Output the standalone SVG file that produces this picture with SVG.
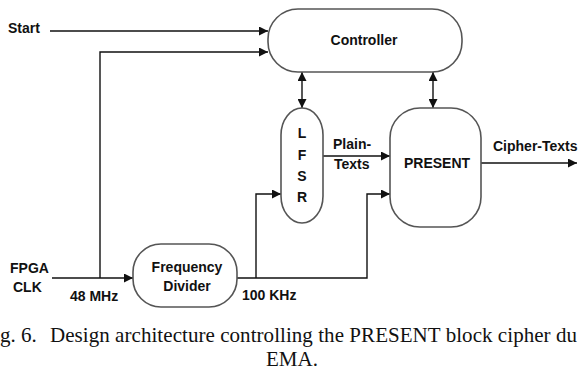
<svg xmlns="http://www.w3.org/2000/svg" width="579" height="370" viewBox="0 0 579 370">
<style>
.n{fill:#fff;stroke:#555;stroke-width:1.6}
.t{font-family:"Liberation Sans",Arial,sans-serif;font-weight:bold;font-size:14px;fill:#111}
.c{text-anchor:middle}
.w{fill:none;stroke:#111;stroke-width:1.4}
.cap{font-family:"Liberation Serif","Times New Roman",serif;font-size:21px;fill:#111}
</style>
<defs>
<marker id="a" viewBox="0 0 10 10" refX="10" refY="5" markerWidth="10" markerHeight="9" markerUnits="userSpaceOnUse" orient="auto-start-reverse">
<path d="M0,0 L10,5 L0,10 z" fill="#111"/>
</marker>
</defs>
<rect width="579" height="370" fill="#fff"/>
<g id="connectors">
<path class="w" d="M50,31 H268" marker-end="url(#a)"/>
<path class="w" d="M100,278 V52 H268" marker-end="url(#a)"/>
<path class="w" d="M52,278 H133" marker-end="url(#a)"/>
<path class="w" d="M237,278 H367 V194 H390" marker-end="url(#a)"/>
<path class="w" d="M256,278 V194 H281" marker-end="url(#a)"/>
<path class="w" d="M302,72 V108" marker-start="url(#a)" marker-end="url(#a)"/>
<path class="w" d="M433,72 V108" marker-start="url(#a)" marker-end="url(#a)"/>
<path class="w" d="M323,156 H390" marker-end="url(#a)"/>
<path class="w" d="M481,163 H577" marker-end="url(#a)"/>
</g>
<g id="start"><text class="t" x="8" y="33">Start</text></g>
<g id="fpga"><text class="t" x="10" y="273">FPGA</text><text class="t" x="13" y="292">CLK</text></g>
<g id="l48"><text class="t" x="70" y="301">48 MHz</text></g>
<g id="l100"><text class="t" x="242" y="300">100 KHz</text></g>
<g id="controller">
<rect class="n" x="268" y="9" width="194" height="63" rx="30" ry="30"/>
<text class="t c" x="364" y="45">Controller</text>
</g>
<g id="lfsr">
<rect class="n" x="281" y="108" width="42" height="115" rx="21" ry="27"/>
<text class="t c" x="302" y="138">L</text>
<text class="t c" x="302" y="160">F</text>
<text class="t c" x="302" y="181">S</text>
<text class="t c" x="302" y="202">R</text>
</g>
<g id="present">
<rect class="n" x="390" y="108" width="91" height="119" rx="30" ry="30"/>
<text class="t c" x="437" y="168">PRESENT</text>
</g>
<g id="divider">
<rect class="n" x="133" y="244" width="104" height="63" rx="28" ry="28"/>
<text class="t c" x="187" y="272">Frequency</text>
<text class="t c" x="187" y="291">Divider</text>
</g>
<g id="labels">
<text class="t" x="333" y="149">Plain-</text>
<text class="t" x="334" y="169">Texts</text>
<text class="t" x="493" y="151">Cipher-Texts</text>
</g>
<g id="caption">
<text class="cap" x="0" y="342">g. 6.</text>
<text class="cap" x="50" y="342" textLength="527" lengthAdjust="spacing">Design architecture controlling the PRESENT block cipher du</text>
<text class="cap c" x="292" y="366">EMA.</text>
</g>
</svg>
